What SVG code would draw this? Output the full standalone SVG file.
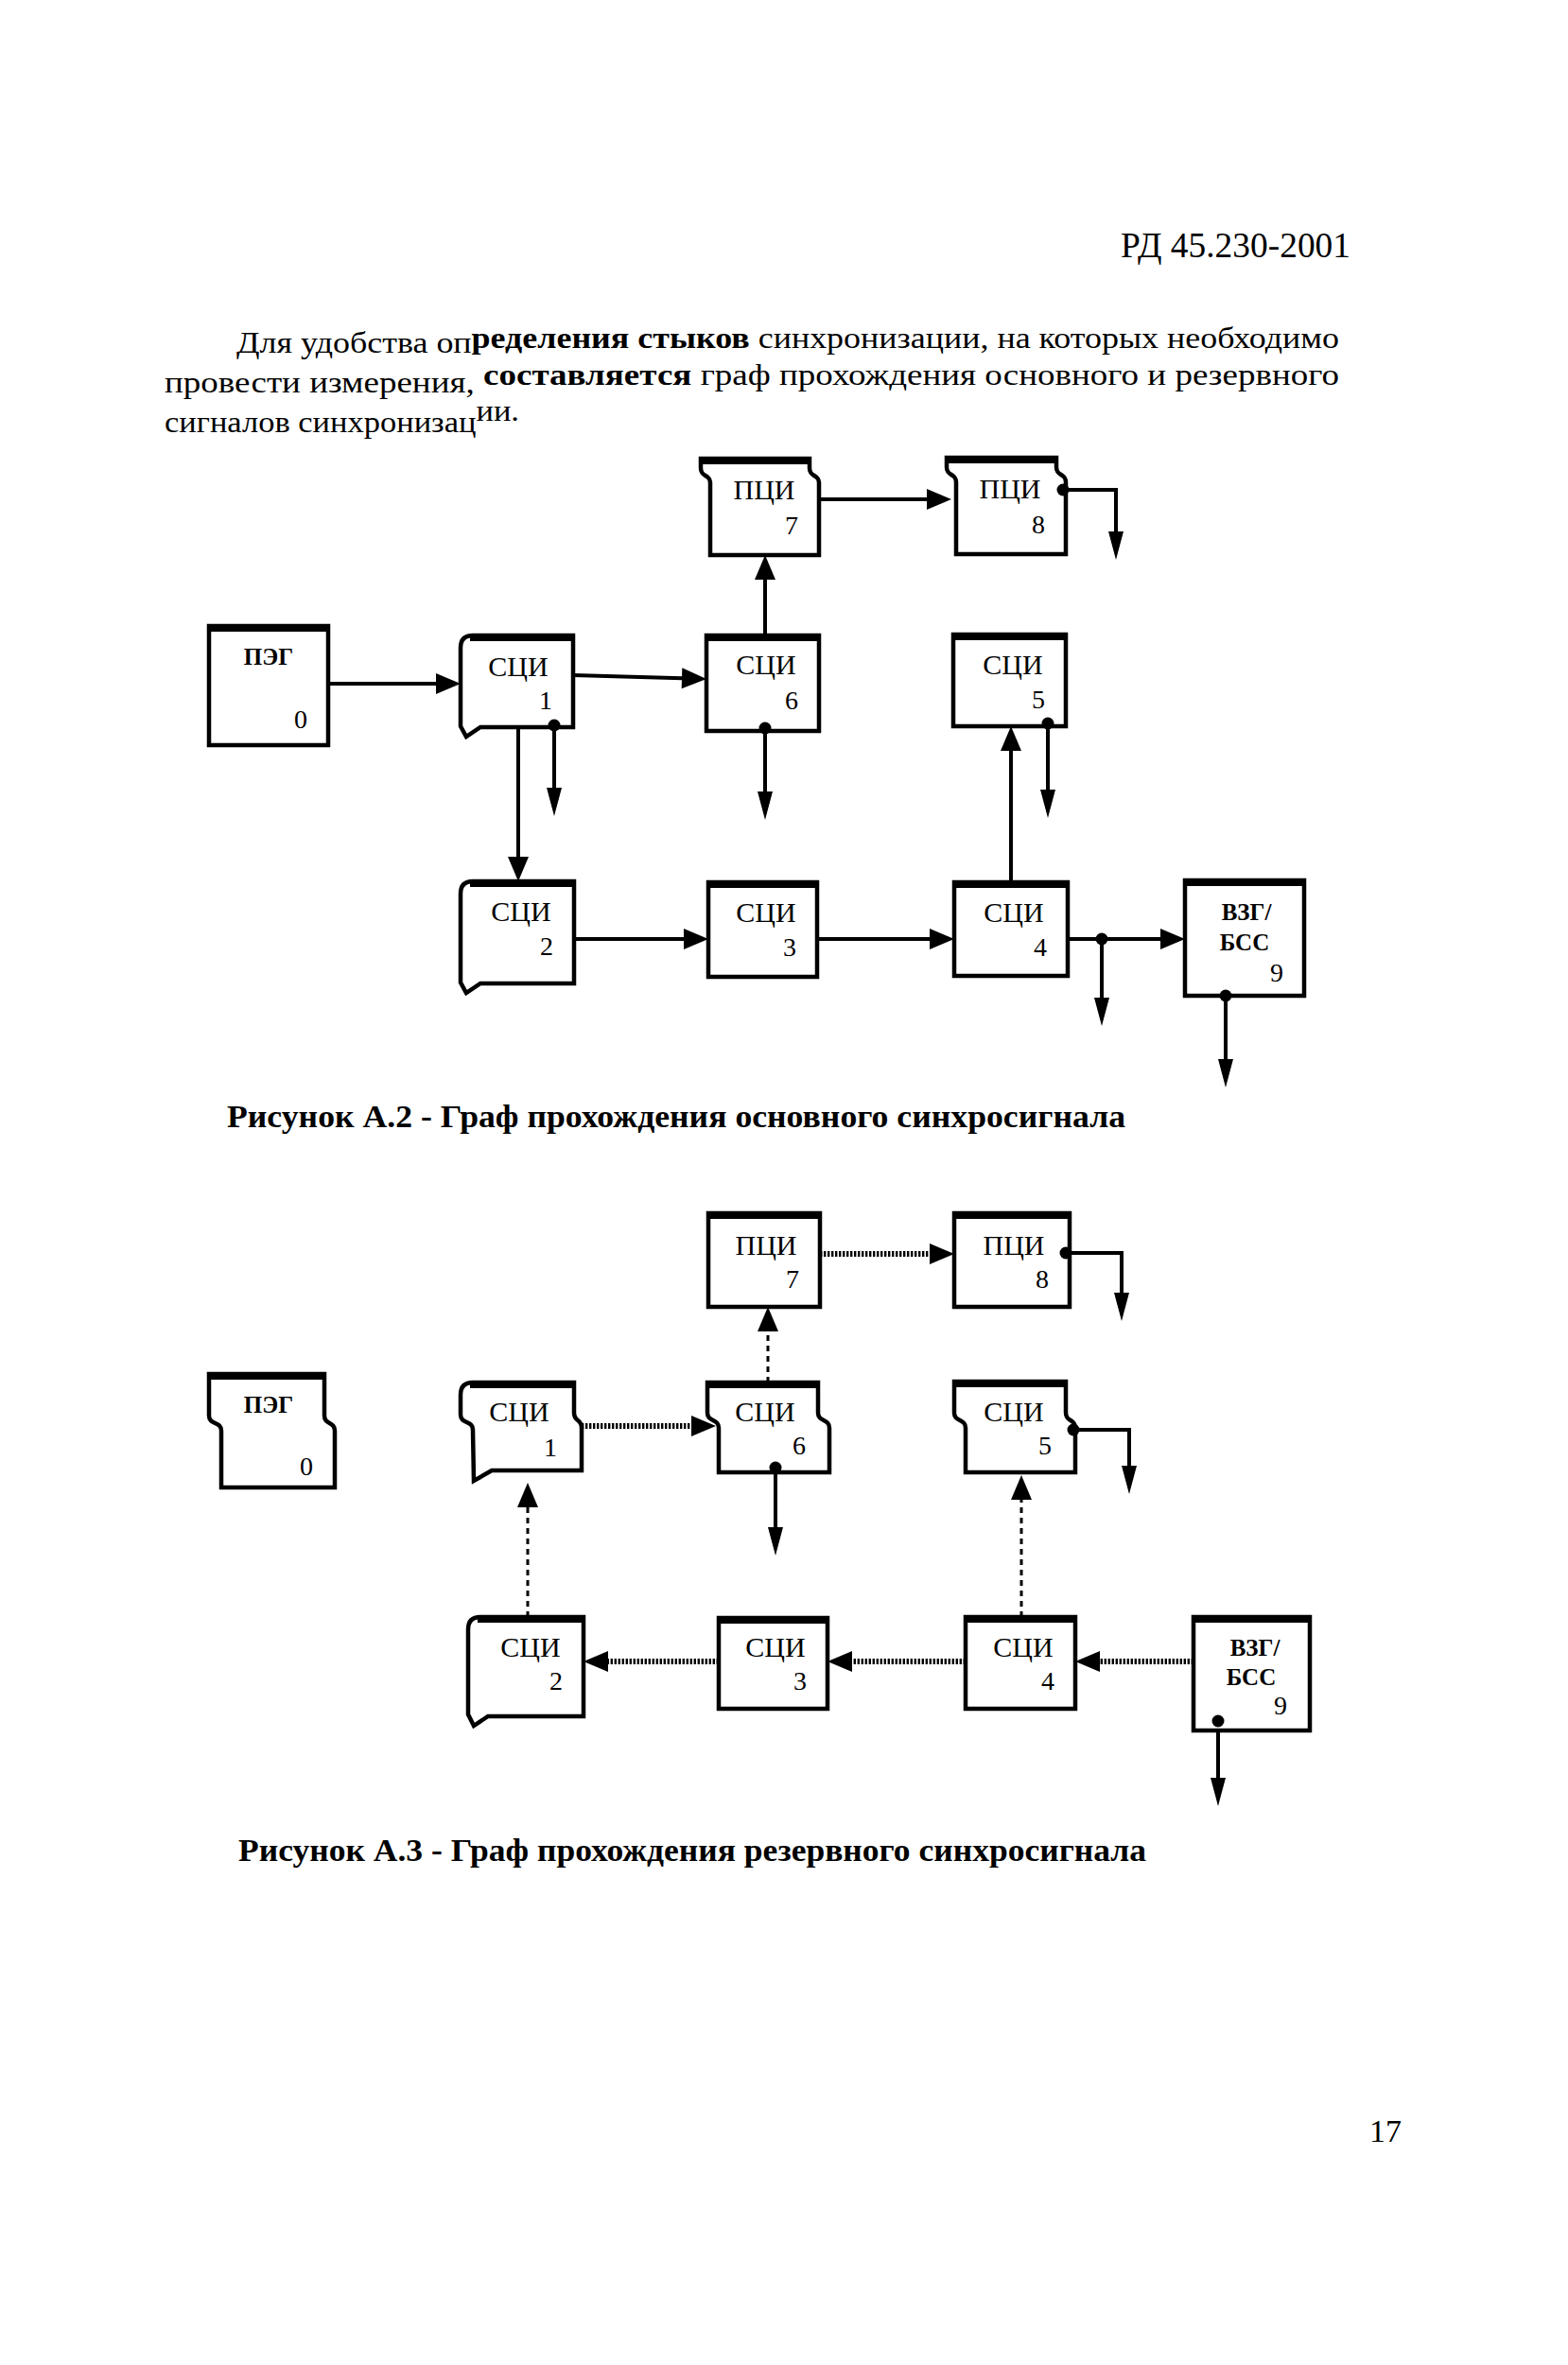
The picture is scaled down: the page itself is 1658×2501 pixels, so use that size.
<svg xmlns="http://www.w3.org/2000/svg" width="1658" height="2501" viewBox="0 0 1658 2501">
<style>
text{font-family:"Liberation Serif","Times New Roman",serif;fill:#000}
.hdr{font-size:38px}
.body{font-size:31px}
.cap{font-size:33px;font-weight:bold}
.lbl{font-size:30px;text-anchor:middle}
.num{font-size:28px;text-anchor:middle}
.blbl{font-size:25px;font-weight:bold;text-anchor:middle}
.shape{fill:#fff;stroke:#000;stroke-width:4.5;stroke-linejoin:miter}
.top{stroke:#000;stroke-width:8;fill:none}
.c{fill:none;stroke:#000;stroke-width:4}
.dt{fill:none;stroke:#000;stroke-width:6;stroke-dasharray:2.4 1.6}
.ds{fill:none;stroke:#000;stroke-width:3;stroke-dasharray:6 5}
.dot{fill:#000}
</style>
<defs>
<marker id="ah" markerUnits="userSpaceOnUse" markerWidth="30" markerHeight="26" viewBox="0 -13 28 26" refX="18" refY="0" orient="auto">
<path d="M0,-11 L26,0 L0,11 Z" fill="#000" stroke="none"/>
</marker>
<marker id="ahd" markerUnits="userSpaceOnUse" markerWidth="32" markerHeight="20" viewBox="0 -10 32 20" refX="22" refY="0" orient="auto">
<path d="M0,-8 L30,0 L0,8 Z" fill="#000" stroke="none"/>
</marker>
</defs>
<rect x="0" y="0" width="1658" height="2501" fill="#fff"/>

<g id="page-text">
<text class="hdr" x="1185" y="272" textLength="243" lengthAdjust="spacingAndGlyphs">РД 45.230-2001</text>
<text class="body" x="250" y="373" textLength="1166" lengthAdjust="spacingAndGlyphs">Для удобства оп<tspan dy="-5" font-weight="bold">ределения стыков</tspan> синхронизации, на которых необходимо</text>
<text class="body" x="174" y="415" textLength="1242" lengthAdjust="spacingAndGlyphs">провести измерения, <tspan dy="-8" font-weight="bold">составляется</tspan> граф прохождения основного и резервного</text>
<text class="body" x="174" y="457" textLength="375" lengthAdjust="spacingAndGlyphs">сигналов синхронизац<tspan dy="-12">ии.</tspan></text>
<text class="cap" x="240" y="1192" textLength="950" lengthAdjust="spacingAndGlyphs">Рисунок А.2 - Граф прохождения основного синхросигнала</text>
<text class="cap" x="252" y="1968" textLength="960" lengthAdjust="spacingAndGlyphs">Рисунок А.3 - Граф прохождения резервного синхросигнала</text>
<text x="1448" y="2265" font-size="34">17</text>
</g>

<!-- ===== Figure A.2 ===== -->
<g id="a2-connectors">
<path class="c" d="M347,723 L479,723" marker-end="url(#ah)"/>
<path class="c" d="M606,714 L739,717.8" marker-end="url(#ah)"/>
<path class="c" d="M809,672 L809,595" marker-end="url(#ah)"/>
<path class="c" d="M866,528 L998,528" marker-end="url(#ah)"/>
<path class="c" d="M548,769 L548,924" marker-end="url(#ah)"/>
<path class="c" d="M1069,933 L1069,776" marker-end="url(#ah)"/>
<path class="c" d="M607,993 L741,993" marker-end="url(#ah)"/>
<path class="c" d="M864,993 L1001,993" marker-end="url(#ah)"/>
<path class="c" d="M1129,993 L1245,993" marker-end="url(#ah)"/>
<path class="c" d="M1124,518 L1180,518 L1180,584" marker-end="url(#ahd)"/>
<path class="c" d="M586,767 L586,855" marker-end="url(#ahd)"/>
<path class="c" d="M809,770 L809,859" marker-end="url(#ahd)"/>
<path class="c" d="M1108,765 L1108,857" marker-end="url(#ahd)"/>
<path class="c" d="M1165,993 L1165,1077" marker-end="url(#ahd)"/>
<path class="c" d="M1296,1053 L1296,1142" marker-end="url(#ahd)"/>
</g>

<g id="a2-peg0">
<rect class="shape" x="221" y="662" width="126" height="126"/>
<line class="top" x1="221" y1="664" x2="347" y2="664"/>
<text class="blbl" x="284" y="703" font-size="27">ПЭГ</text>
<text class="num" x="318" y="770">0</text>
</g>
<g id="a2-sci1">
<path class="shape" d="M487,685 Q487,672 500,672 L606,672 L606,769 L508,769 L493,779 L487,768 Z"/>
<line class="top" x1="497" y1="674" x2="606" y2="674"/>
<text class="lbl" x="548" y="715">СЦИ</text>
<text class="num" x="577" y="750">1</text>
</g>
<g id="a2-sci6">
<rect class="shape" x="747" y="672" width="119" height="101"/>
<line class="top" x1="747" y1="674" x2="866" y2="674"/>
<text class="lbl" x="810" y="713">СЦИ</text>
<text class="num" x="837" y="750">6</text>
</g>
<g id="a2-sci5">
<rect class="shape" x="1008" y="671" width="119" height="97"/>
<line class="top" x1="1008" y1="673" x2="1127" y2="673"/>
<text class="lbl" x="1071" y="713">СЦИ</text>
<text class="num" x="1098" y="749">5</text>
</g>
<g id="a2-pci7">
<path class="shape" d="M741,485 L856,485 L856,495 C856,505 866,501 866,511 L866,587 L751,587 L751,511 C751,501 741,505 741,495 Z"/>
<line class="top" x1="741" y1="487" x2="856" y2="487"/>
<text class="lbl" x="808" y="528">ПЦИ</text>
<text class="num" x="837" y="565">7</text>
</g>
<g id="a2-pci8">
<path class="shape" d="M1001,484 L1117,484 L1117,494 C1117,504 1127,500 1127,510 L1127,586 L1011,586 L1011,510 C1011,500 1001,504 1001,494 Z"/>
<line class="top" x1="1001" y1="486" x2="1117" y2="486"/>
<text class="lbl" x="1068" y="527">ПЦИ</text>
<text class="num" x="1098" y="564">8</text>
</g>
<g id="a2-sci2">
<path class="shape" d="M487,945 Q487,932 500,932 L607,932 L607,1040 L508,1040 L493,1050 L487,1039 Z"/>
<line class="top" x1="497" y1="934" x2="607" y2="934"/>
<text class="lbl" x="551" y="974">СЦИ</text>
<text class="num" x="578" y="1010">2</text>
</g>
<g id="a2-sci3">
<rect class="shape" x="749" y="933" width="115" height="100"/>
<line class="top" x1="749" y1="935" x2="864" y2="935"/>
<text class="lbl" x="810" y="975">СЦИ</text>
<text class="num" x="835" y="1011">3</text>
</g>
<g id="a2-sci4">
<rect class="shape" x="1009" y="933" width="120" height="99"/>
<line class="top" x1="1009" y1="935" x2="1129" y2="935"/>
<text class="lbl" x="1072" y="975">СЦИ</text>
<text class="num" x="1100" y="1011">4</text>
</g>
<g id="a2-vzg9">
<rect class="shape" x="1253" y="931" width="126" height="122"/>
<line class="top" x1="1253" y1="933" x2="1379" y2="933"/>
<text class="blbl" x="1318" y="973">ВЗГ/</text>
<text class="blbl" x="1316" y="1005">БСС</text>
<text class="num" x="1350" y="1038">9</text>
</g>
<g id="a2-dots">
<circle class="dot" cx="1124" cy="518" r="6.5"/>
<circle class="dot" cx="586" cy="767" r="6.5"/>
<circle class="dot" cx="809" cy="770" r="6.5"/>
<circle class="dot" cx="1108" cy="765" r="6.5"/>
<circle class="dot" cx="1165" cy="993" r="6.5"/>
<circle class="dot" cx="1296" cy="1053" r="6.5"/>
</g>

<!-- ===== Figure A.3 ===== -->
<g id="a3-connectors">
<path class="dt" d="M867,1326 L1001,1326" marker-end="url(#ah)"/>
<path class="ds" d="M812,1462 L812,1390" marker-end="url(#ah)"/>
<path class="dt" d="M615,1508 L749,1508" marker-end="url(#ah)"/>
<path class="ds" d="M558,1710 L558,1576" marker-end="url(#ah)"/>
<path class="ds" d="M1080,1710 L1080,1568" marker-end="url(#ah)"/>
<path class="dt" d="M1262,1757 L1145,1757" marker-end="url(#ah)"/>
<path class="dt" d="M1021,1757 L883,1757" marker-end="url(#ah)"/>
<path class="dt" d="M760,1757 L625,1757" marker-end="url(#ah)"/>
<path class="c" d="M1127,1325 L1186,1325 L1186,1389" marker-end="url(#ahd)"/>
<path class="c" d="M820,1552 L820,1637" marker-end="url(#ahd)"/>
<path class="c" d="M1135,1512 L1194,1512 L1194,1572" marker-end="url(#ahd)"/>
<path class="c" d="M1288,1820 L1288,1902" marker-end="url(#ahd)"/>
</g>

<g id="a3-pci7">
<rect class="shape" x="749" y="1283" width="118" height="99"/>
<line class="top" x1="749" y1="1285" x2="867" y2="1285"/>
<text class="lbl" x="810" y="1327">ПЦИ</text>
<text class="num" x="838" y="1362">7</text>
</g>
<g id="a3-pci8">
<rect class="shape" x="1009" y="1283" width="122" height="99"/>
<line class="top" x1="1009" y1="1285" x2="1131" y2="1285"/>
<text class="lbl" x="1072" y="1327">ПЦИ</text>
<text class="num" x="1102" y="1362">8</text>
</g>
<g id="a3-peg0">
<path class="shape" d="M221,1453 L343,1453 L343,1497 C343,1507 354,1503 354,1513 L354,1573 L234,1573 L234,1513 C234,1503 221,1507 221,1497 Z"/>
<line class="top" x1="221" y1="1455" x2="343" y2="1455"/>
<text class="blbl" x="284" y="1494" font-size="27">ПЭГ</text>
<text class="num" x="324" y="1560">0</text>
</g>
<g id="a3-sci1">
<path class="shape" d="M487,1475 Q487,1462 500,1462 L607,1462 L607,1494 C607,1504 615,1500 615,1510 L615,1555 L520,1555 L501,1566 L500,1512 C500,1502 487,1506 487,1496 Z"/>
<line class="top" x1="497" y1="1464" x2="607" y2="1464"/>
<text class="lbl" x="549" y="1503">СЦИ</text>
<text class="num" x="582" y="1540">1</text>
</g>
<g id="a3-sci6">
<path class="shape" d="M748,1462 L865,1462 L865,1494 C865,1504 877,1500 877,1510 L877,1557 L760,1557 L760,1510 C760,1500 748,1504 748,1494 Z"/>
<line class="top" x1="748" y1="1464" x2="865" y2="1464"/>
<text class="lbl" x="809" y="1503">СЦИ</text>
<text class="num" x="845" y="1538">6</text>
</g>
<g id="a3-sci5">
<path class="shape" d="M1009,1461 L1127,1461 L1127,1494 C1127,1504 1137,1500 1137,1510 L1137,1557 L1021,1557 L1021,1510 C1021,1500 1009,1504 1009,1494 Z"/>
<line class="top" x1="1009" y1="1463" x2="1127" y2="1463"/>
<text class="lbl" x="1072" y="1503">СЦИ</text>
<text class="num" x="1105" y="1538">5</text>
</g>
<g id="a3-sci2">
<path class="shape" d="M495,1723 Q495,1710 508,1710 L617,1710 L617,1815 L516,1815 L501,1825 L495,1813 Z"/>
<line class="top" x1="505" y1="1712" x2="617" y2="1712"/>
<text class="lbl" x="561" y="1752">СЦИ</text>
<text class="num" x="588" y="1787">2</text>
</g>
<g id="a3-sci3">
<rect class="shape" x="760" y="1711" width="115" height="96"/>
<line class="top" x1="760" y1="1713" x2="875" y2="1713"/>
<text class="lbl" x="820" y="1752">СЦИ</text>
<text class="num" x="846" y="1787">3</text>
</g>
<g id="a3-sci4">
<rect class="shape" x="1021" y="1710" width="116" height="97"/>
<line class="top" x1="1021" y1="1712" x2="1137" y2="1712"/>
<text class="lbl" x="1082" y="1752">СЦИ</text>
<text class="num" x="1108" y="1787">4</text>
</g>
<g id="a3-vzg9">
<rect class="shape" x="1262" y="1710" width="123" height="120"/>
<line class="top" x1="1262" y1="1712" x2="1385" y2="1712"/>
<text class="blbl" x="1327" y="1751">ВЗГ/</text>
<text class="blbl" x="1323" y="1782">БСС</text>
<text class="num" x="1354" y="1813">9</text>
</g>
<g id="a3-dots">
<circle class="dot" cx="1127" cy="1325" r="6.5"/>
<circle class="dot" cx="820" cy="1552" r="6.5"/>
<circle class="dot" cx="1135" cy="1512" r="6.5"/>
<circle class="dot" cx="1288" cy="1820" r="6.5"/>
</g>
</svg>
